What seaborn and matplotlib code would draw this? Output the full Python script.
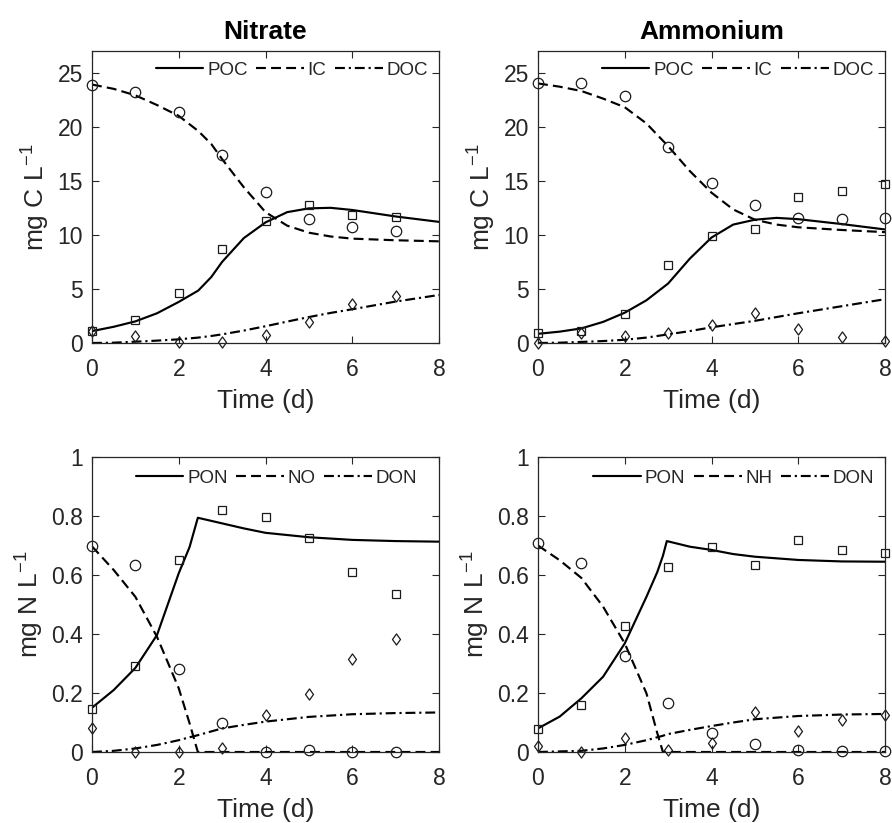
import matplotlib
matplotlib.use("Agg")
import matplotlib.pyplot as plt
from matplotlib.path import Path
import numpy as np
import pandas as pd
import seaborn as sns

# ---------------- data ----------------
# observation days
t_obs_nitrate = [0, 1, 2, 3, 4, 5, 6, 7]
t_obs_ammonium = [0, 1, 2, 3, 4, 5, 6, 7, 8]

# Nitrate, carbon (mg C/L)
poc_obs_nit = [1.15, 2.1, 4.6, 8.7, 11.3, 12.8, 11.85, 11.65]
ic_obs_nit = [23.9, 23.2, 21.4, 17.4, 14.0, 11.5, 10.7, 10.4]
doc_obs_nit = [1.15, 0.65, 0.05, 0.1, 0.7, 1.95, 3.6, 4.35]

t_mod_c_nit = [0, 0.5, 1, 1.5, 2, 2.45, 2.75, 3, 3.5, 4, 4.5, 5, 5.5, 6, 7, 8]
poc_mod_nit = [1.1, 1.5, 2.0, 2.75, 3.8, 4.85, 6.1, 7.5, 9.7, 11.15, 12.1, 12.45, 12.5, 12.3, 11.7, 11.2]
ic_mod_nit = [23.9, 23.5, 22.9, 22.0, 21.0, 19.6, 18.4, 17.0, 14.4, 12.1, 10.85, 10.2, 9.85, 9.65, 9.5, 9.4]
doc_mod_nit = [0.0, 0.03, 0.12, 0.22, 0.34, 0.5, 0.65, 0.8, 1.15, 1.55, 1.98, 2.4, 2.78, 3.12, 3.83, 4.44]

# Ammonium, carbon (mg C/L)
poc_obs_amm = [0.9, 1.15, 2.65, 7.2, 9.9, 10.55, 13.5, 14.1, 14.7]
ic_obs_amm = [24.0, 24.0, 22.8, 18.15, 14.8, 12.75, 11.55, 11.45, 11.55]
doc_obs_amm = [0.0, 0.9, 0.65, 0.9, 1.7, 2.75, 1.25, 0.6, 0.15]

t_mod_c_amm = [0, 0.5, 1, 1.5, 2, 2.5, 3, 3.5, 4, 4.5, 5, 5.5, 6, 7, 8]
poc_mod_amm = [0.85, 1.05, 1.35, 1.95, 2.8, 3.95, 5.5, 7.8, 9.75, 10.95, 11.4, 11.57, 11.45, 11.0, 10.5]
ic_mod_amm = [24.0, 23.7, 23.3, 22.6, 21.8, 20.3, 18.2, 15.9, 13.9, 12.35, 11.4, 10.95, 10.7, 10.45, 10.25]
doc_mod_amm = [0.0, 0.03, 0.1, 0.18, 0.3, 0.5, 0.8, 1.1, 1.45, 1.75, 2.05, 2.4, 2.75, 3.4, 4.05]

# Nitrate, nitrogen (mg N/L)
pon_obs_nit = [0.145, 0.29, 0.65, 0.82, 0.797, 0.725, 0.61, 0.537]
no_obs = [0.697, 0.633, 0.282, 0.097, 0.0, 0.006, 0.0, 0.0]
don_obs_nit = [0.08, 0.0, 0.0, 0.015, 0.126, 0.198, 0.316, 0.384]

t_mod_n_nit = [0, 0.5, 1, 1.5, 2, 2.25, 2.44, 3, 3.5, 4, 5, 6, 7, 8]
pon_mod_nit = [0.15, 0.21, 0.285, 0.397, 0.606, 0.695, 0.794, 0.775, 0.758, 0.743, 0.728, 0.719, 0.715, 0.713]
no_mod = [0.697, 0.617, 0.526, 0.39, 0.216, 0.097, 0.0, 0.0, 0.0, 0.0, 0.0, 0.0, 0.0, 0.0]
don_mod_nit = [0.0, 0.004, 0.012, 0.024, 0.04, 0.05, 0.057, 0.08, 0.092, 0.103, 0.119, 0.128, 0.132, 0.134]

# Ammonium, nitrogen (mg N/L)
pon_obs_amm = [0.077, 0.158, 0.428, 0.626, 0.696, 0.633, 0.717, 0.685, 0.673]
nh_obs = [0.707, 0.642, 0.325, 0.165, 0.064, 0.026, 0.006, 0.002, 0.002]
don_obs_amm = [0.02, 0.0, 0.048, 0.006, 0.03, 0.135, 0.07, 0.107, 0.127]

t_mod_n_amm = [0, 0.5, 1, 1.5, 2, 2.5, 2.75, 2.88, 2.97, 3.5, 4, 4.5, 5, 6, 7, 8]
pon_mod_amm = [0.08, 0.12, 0.182, 0.255, 0.368, 0.526, 0.61, 0.665, 0.715, 0.696, 0.685, 0.671, 0.662, 0.651, 0.646, 0.645]
nh_mod = [0.70, 0.65, 0.59, 0.493, 0.368, 0.199, 0.064, 0.0, 0.0, 0.0, 0.0, 0.0, 0.0, 0.0, 0.0, 0.0]
don_mod_amm = [0.0, 0.002, 0.004, 0.012, 0.024, 0.04, 0.05, 0.055, 0.06, 0.075, 0.088, 0.1, 0.111, 0.122, 0.127, 0.129]

x_ticks = [0, 2, 4, 6, 8]
c_ticks = [0, 5, 10, 15, 20, 25]
n_ticks = [0, 0.2, 0.4, 0.6, 0.8, 1]
n_tick_labels = ["0", "0.2", "0.4", "0.6", "0.8", "1"]

# ---------------- style ----------------
sns.set_theme(style="white")
plt.rcParams["font.family"] = ["Liberation Sans", "DejaVu Sans"]
plt.rcParams["mathtext.fontset"] = "custom"
plt.rcParams["mathtext.rm"] = "Liberation Sans"
plt.rcParams["mathtext.it"] = "Liberation Sans:italic"
plt.rcParams["axes.unicode_minus"] = False

TXT = "#262626"
diamond = Path([(0, -1), (0.72, 0), (0, 1), (-0.72, 0), (0, -1)],
               [Path.MOVETO, Path.LINETO, Path.LINETO, Path.LINETO, Path.CLOSEPOLY])

fig = plt.figure(figsize=(8.92, 8.23), dpi=100)
W, H = 892, 823


def axes_px(l, t, r, b):
    return fig.add_axes([l / W, 1 - b / H, (r - l) / W, (b - t) / H])


def panel(ax, t_obs, obs, t_mod, mods, names, ylim, yticks, ylabel, title=None,
          yticklabels=None, leg_anchor=(0.968, 0.935)):
    df = pd.DataFrame({"t": t_mod, **{n: m for n, m in zip(names, mods)}})
    styles = ["-", "--", "-."]
    dash_seq = [None, (4.6, 2.4), (4.6, 1.8, 1.0, 1.8)]
    for n, ls in zip(names, styles):
        sns.lineplot(data=df, x="t", y=n, ax=ax, color="black", linestyle=ls,
                     linewidth=1.55, estimator=None, sort=False, label=n)
    handles = ax.get_lines()[:3]
    for ln, ds in zip(handles, dash_seq):
        if ds is not None:
            ln.set_dashes(ds)
    markers = ["s", "o", diamond]
    msizes = [6.2, 7.5, 8.0]
    for vals, mk, ms in zip(obs, markers, msizes):
        d = pd.DataFrame({"t": t_obs, "v": vals})
        sns.lineplot(data=d, x="t", y="v", ax=ax, linestyle="none",
                     marker=mk, markersize=ms, markerfacecolor="none",
                     markeredgecolor="#1a1a1a", markeredgewidth=0.9,
                     estimator=None, sort=False, legend=False)
    for ln in ax.get_lines()[3:]:
        ln.set_clip_on(False)
    ax.set_xlim(0, 8)
    ax.set_ylim(*ylim)
    ax.set_xticks(x_ticks)
    ax.set_yticks(yticks)
    if yticklabels is not None:
        ax.set_yticklabels(yticklabels)
    ax.set_xlabel("Time (d)", fontsize=19, color=TXT, labelpad=6)
    ax.set_ylabel(ylabel, fontsize=19, color=TXT, labelpad=4)
    if title:
        ax.set_title(title, fontsize=19, fontweight="bold", color="black", pad=9)
    ax.tick_params(axis="both", which="major", direction="in", length=5,
                   width=0.8, colors=TXT, labelsize=16.5, top=True, right=True,
                   bottom=True, left=True)
    ax.tick_params(axis="x", pad=10.5)
    ax.tick_params(axis="y", pad=6.5)
    for sp in ax.spines.values():
        sp.set_color(TXT)
        sp.set_linewidth(0.9)
    ax.legend(handles=handles, labels=names, loc="center right",
              bbox_to_anchor=leg_anchor, ncol=3, frameon=False, fontsize=13.5,
              handlelength=2.55, handletextpad=0.2, columnspacing=0.45,
              borderpad=0, borderaxespad=0, labelcolor=TXT)


ax1 = axes_px(92, 51, 439, 343)
ax2 = axes_px(538, 51, 885, 343)
ax3 = axes_px(92, 457, 439, 752)
ax4 = axes_px(538, 457, 885, 752)

ylab_c = r"mg C L$^{\mathregular{-1}}$"
ylab_n = r"mg N L$^{\mathregular{-1}}$"

panel(ax1, t_obs_nitrate, [poc_obs_nit, ic_obs_nit, doc_obs_nit], t_mod_c_nit,
      [poc_mod_nit, ic_mod_nit, doc_mod_nit], ["POC", "IC", "DOC"], (0, 27), c_ticks,
      ylab_c, title="Nitrate", leg_anchor=(0.968, 0.935))
panel(ax2, t_obs_ammonium, [poc_obs_amm, ic_obs_amm, doc_obs_amm], t_mod_c_amm,
      [poc_mod_amm, ic_mod_amm, doc_mod_amm], ["POC", "IC", "DOC"], (0, 27), c_ticks,
      ylab_c, title="Ammonium", leg_anchor=(0.968, 0.935))
panel(ax3, t_obs_nitrate, [pon_obs_nit, no_obs, don_obs_nit], t_mod_n_nit,
      [pon_mod_nit, no_mod, don_mod_nit], ["PON", "NO", "DON"], (0, 1), n_ticks,
      ylab_n, yticklabels=n_tick_labels, leg_anchor=(0.937, 0.929))
panel(ax4, t_obs_ammonium, [pon_obs_amm, nh_obs, don_obs_amm], t_mod_n_amm,
      [pon_mod_amm, nh_mod, don_mod_amm], ["PON", "NH", "DON"], (0, 1), n_ticks,
      ylab_n, yticklabels=n_tick_labels, leg_anchor=(0.968, 0.929))

fig.savefig("out.png", dpi=100, facecolor="white")
